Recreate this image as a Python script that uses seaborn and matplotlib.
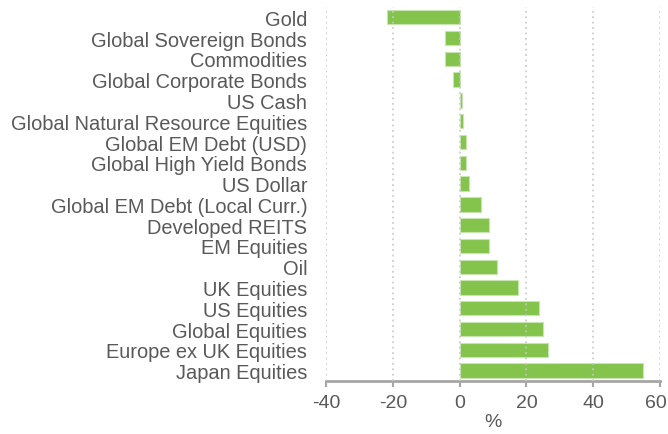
import matplotlib
matplotlib.use("Agg")
import matplotlib.pyplot as plt
import matplotlib.transforms as mtrans
import seaborn as sns
import pandas as pd

categories = ["Gold", "Global Sovereign Bonds", "Commodities", "Global Corporate Bonds",
              "US Cash", "Global Natural Resource Equities", "Global EM Debt (USD)",
              "Global High Yield Bonds", "US Dollar", "Global EM Debt (Local Curr.)",
              "Developed REITS", "EM Equities", "Oil", "UK Equities", "US Equities",
              "Global Equities", "Europe ex UK Equities", "Japan Equities"]
values = [-21.6, -4.5, -4.5, -2.0, 0.7, 0.9, 1.8, 2.0, 2.9, 6.5, 8.8, 8.8, 11.2,
          17.5, 23.8, 25.1, 26.5, 54.9]
x_ticks = [-40, -20, 0, 20, 40, 60]

df = pd.DataFrame({"category": categories, "value": values})

sns.set_theme(style="white")
plt.rcParams["font.family"] = ["Liberation Sans", "DejaVu Sans"]

fig = plt.figure(figsize=(6.68, 4.35), dpi=100)
ax = fig.add_axes([0.488, 0.1218, 0.5, 0.86])

sns.barplot(data=df, x="value", y="category", orient="h", color="#84C44C",
            saturation=1, width=0.69, edgecolor="#C8E4B0", linewidth=0.8, ax=ax)

ax.set_xlim(-40, 60)
ax.set_xticks(x_ticks)
ax.set_xticklabels([str(t) for t in x_ticks])
ax.set_xlabel("%", fontsize=14, color="#595959", labelpad=2)
ax.set_ylabel("")

ax.set_axisbelow(False)
ax.grid(axis="x", linestyle=(0, (1, 2)), color="#C8C8C8", linewidth=1.3, alpha=0.9)
ax.grid(axis="y", visible=False)

for s in ["top", "right", "left"]:
    ax.spines[s].set_visible(False)
ax.spines["bottom"].set_color("#A6A6A6")
ax.spines["bottom"].set_linewidth(2)

ax.tick_params(axis="x", colors="#A6A6A6", labelcolor="#595959", labelsize=14,
               length=4, width=1.5, direction="out", pad=5, bottom=True)
ax.tick_params(axis="y", labelcolor="#595959", labelsize=14.4, length=0, pad=13.5)

# keep the last tick label inside the figure
last = ax.get_xticklabels()[-1]
last.set_transform(last.get_transform() + mtrans.ScaledTranslation(-3 / 72, 0, fig.dpi_scale_trans))

fig.savefig("out.png", dpi=100)
